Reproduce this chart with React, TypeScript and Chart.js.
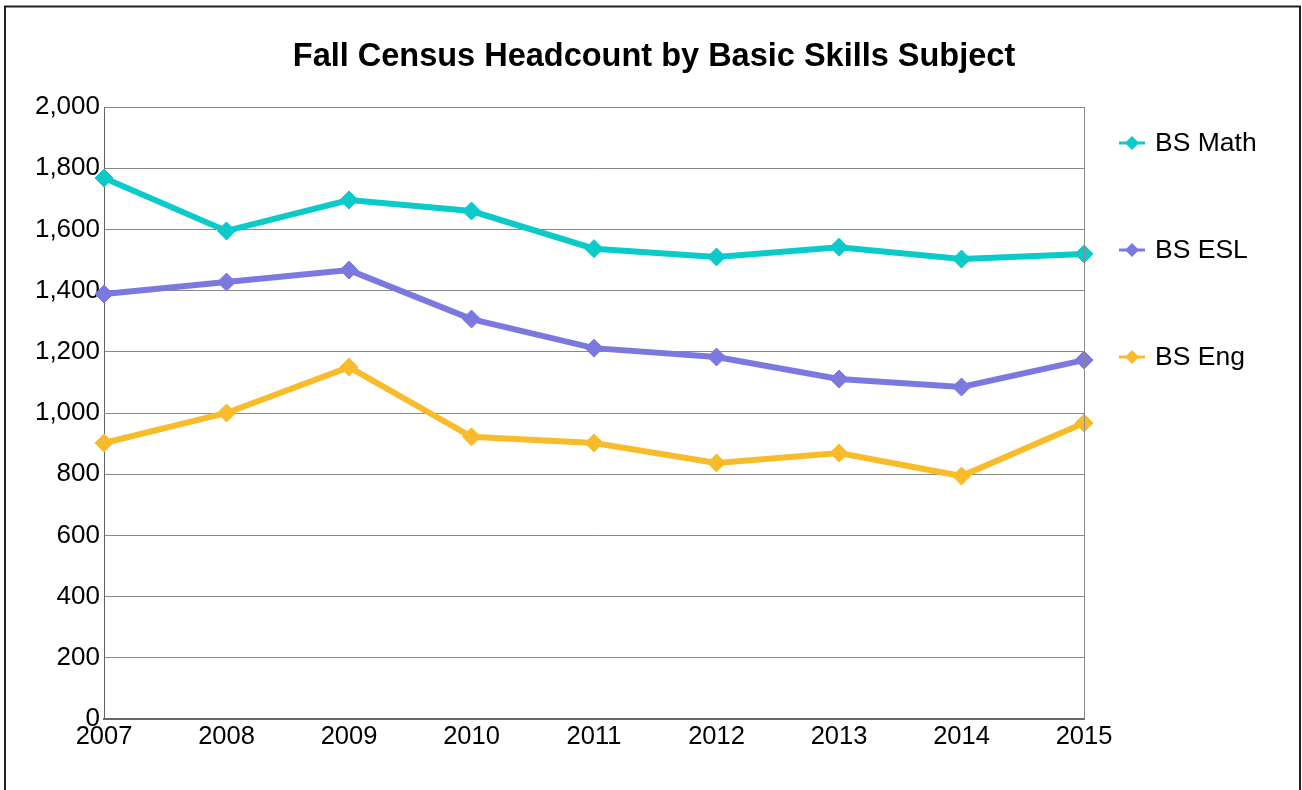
import React, { useEffect, useRef } from "react";
import { Chart, registerables } from "chart.js";

Chart.register(...registerables);

const years = ["2007", "2008", "2009", "2010", "2011", "2012", "2013", "2014", "2015"];
const bsMath = [1768, 1595, 1696, 1660, 1537, 1510, 1542, 1503, 1520];
const bsEsl = [1389, 1428, 1467, 1307, 1212, 1183, 1111, 1085, 1173];
const bsEng = [902, 1000, 1150, 922, 902, 837, 869, 794, 967];
const seriesNames = ["BS Math", "BS ESL", "BS Eng"];
const seriesColors = ["#0ACACA", "#7B79E0", "#F8BC2A"];
const titleText = "Fall Census Headcount by Basic Skills Subject";

const FONT = "'Liberation Sans', Arial, sans-serif";

export default function App() {
  const ref = useRef<HTMLCanvasElement | null>(null);

  useEffect(() => {
    if (!ref.current) return;
    const decor = {
      id: "decor",
      beforeDraw(chart: any) {
        const ctx = chart.ctx;
        ctx.save();
        ctx.fillStyle = "#ffffff";
        ctx.fillRect(0, 0, chart.width, chart.height);
        ctx.strokeStyle = "#222";
        ctx.lineWidth = 2;
        ctx.strokeRect(5, 6.5, 1295, 820);
        ctx.restore();
      },
      afterDatasetsDraw(chart: any) {
        const ctx = chart.ctx;
        const a = chart.chartArea;
        ctx.save();
        ctx.strokeStyle = "#8a8a8a";
        ctx.lineWidth = 1;
        ctx.beginPath();
        ctx.moveTo(Math.round(a.right) + 0.5, a.top);
        ctx.lineTo(Math.round(a.right) + 0.5, a.bottom);
        ctx.stroke();
        ctx.fillStyle = "#000";
        ctx.font = `bold 32.5px ${FONT}`;
        ctx.textAlign = "center";
        ctx.textBaseline = "middle";
        ctx.fillText(titleText, 654, 57);
        const ys = [143, 250, 357];
        ctx.font = `26.5px ${FONT}`;
        ctx.textAlign = "left";
        for (let i = 0; i < seriesNames.length; i++) {
          const y = ys[i];
          ctx.strokeStyle = seriesColors[i];
          ctx.lineWidth = 3;
          ctx.beginPath();
          ctx.moveTo(1119, y);
          ctx.lineTo(1145, y);
          ctx.stroke();
          ctx.fillStyle = seriesColors[i];
          ctx.beginPath();
          ctx.moveTo(1132 - 7, y);
          ctx.lineTo(1132, y - 7);
          ctx.lineTo(1132 + 7, y);
          ctx.lineTo(1132, y + 7);
          ctx.closePath();
          ctx.fill();
          ctx.fillStyle = "#000";
          ctx.fillText(seriesNames[i], 1155, y + 1);
        }
        ctx.restore();
      },
    };

    const mk = (label: string, data: number[], color: string) => ({
      label,
      data,
      borderColor: color,
      backgroundColor: color,
      borderWidth: 6,
      pointStyle: "rectRot" as const,
      pointRadius: 9,
      pointBorderWidth: 1,
      pointBackgroundColor: color,
      pointBorderColor: color,
      tension: 0,
      clip: false as any,
    });

    const chart = new Chart(ref.current, {
      type: "line",
      data: {
        labels: years,
        datasets: [
          mk(seriesNames[0], bsMath, seriesColors[0]),
          mk(seriesNames[1], bsEsl, seriesColors[1]),
          mk(seriesNames[2], bsEng, seriesColors[2]),
        ],
      },
      options: {
        responsive: false,
        animation: false,
        layout: { padding: { left: 0, top: 107, right: 218, bottom: 31 } },
        plugins: {
          legend: { display: false },
          title: { display: false },
          tooltip: { enabled: false },
        },
        scales: {
          x: {
            offset: false,
            grid: { display: false, drawTicks: false },
            border: { display: true, color: "#666", width: 2 },
            ticks: {
              color: "#000",
              font: { family: FONT, size: 25.5 },
              padding: 3,
              maxRotation: 0,
              autoSkip: false,
            },
            afterFit(scale: any) {
              scale.height = 40;
            },
          },
          y: {
            min: 0,
            max: 2000,
            grid: { color: "#888", lineWidth: 1, drawTicks: false },
            border: { display: true, color: "#666", width: 1 },
            ticks: {
              stepSize: 200,
              color: "#000",
              font: { family: FONT, size: 26 },
              padding: 4,
              callback: (v: any) => Number(v).toLocaleString("en-US"),
            },
            afterFit(scale: any) {
              scale.width = 104;
            },
          },
        },
      },
      plugins: [decor],
    });
    return () => chart.destroy();
  }, []);

  return (
    <div style={{ position: "absolute", left: 0, top: 0, width: 1302, height: 790, background: "#fff" }}>
      <canvas ref={ref} width={1302} height={790} style={{ display: "block" }} />
    </div>
  );
}
